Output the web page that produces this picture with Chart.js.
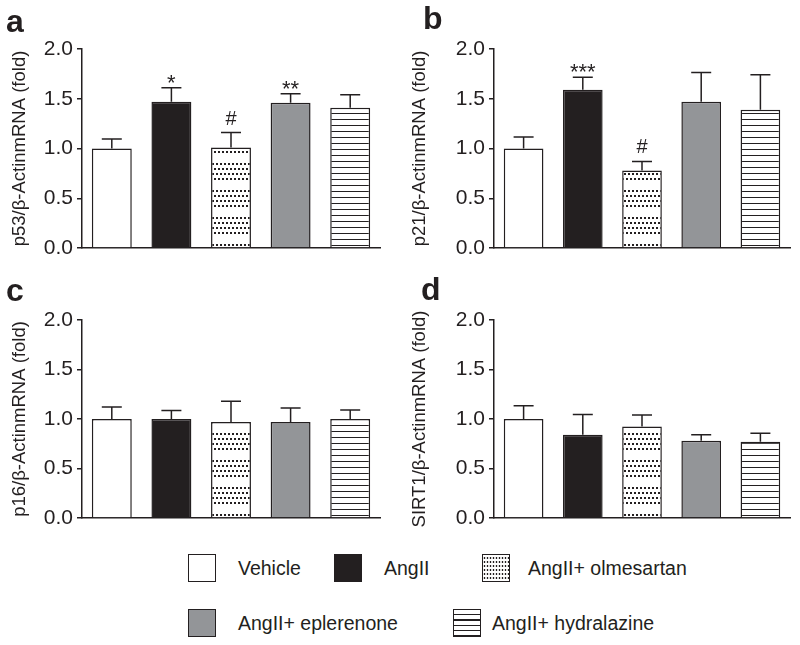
<!DOCTYPE html>
<html>
<head>
<meta charset="utf-8">
<script src="https://cdn.jsdelivr.net/npm/chart.js@4.4.1/dist/chart.umd.min.js"></script>
<style>
  body { margin: 0; background: #fff; font-family: "Liberation Sans", Arial, sans-serif; color: #231f20; }
  #wrap { position: relative; width: 800px; height: 645px; overflow: hidden; }
  .panel { position: absolute; width: 400px; height: 265px; }
  .letter { position: absolute; font-weight: bold; font-size: 32px; line-height: 1; }
  .sw { position: absolute; width: 26px; height: 26px; border: 1.5px solid #231f20; box-sizing: content-box; }
  .lt { position: absolute; font-size: 19.5px; line-height: 1; }
</style>
</head>
<body>
<div id="wrap">
  <div class="panel" style="left:0;top:0"><canvas id="cA"></canvas></div>
  <div class="panel" style="left:400px;top:0"><canvas id="cB"></canvas></div>
  <div class="panel" style="left:0;top:270px"><canvas id="cC"></canvas></div>
  <div class="panel" style="left:400px;top:270px"><canvas id="cD"></canvas></div>

  <div class="letter" style="left:6px;top:5px">a</div>
  <div class="letter" style="left:423px;top:2px">b</div>
  <div class="letter" style="left:6px;top:274px">c</div>
  <div class="letter" style="left:421px;top:273px">d</div>

  <div id="legend"></div>
</div>
<script>
// --- data ---
const groups = ["Vehicle", "AngII", "AngII+ olmesartan", "AngII+ eplerenone", "AngII+ hydralazine"];
const yTicks = [0, 0.5, 1.0, 1.5, 2.0];

const p53Mean = [1.0, 1.47, 1.01, 1.46, 1.41];
const p53Sem = [0.095, 0.14, 0.15, 0.09, 0.13];
const p53Marks = ["", "*", "#", "**", ""];

const p21Mean = [1.0, 1.59, 0.78, 1.47, 1.39];
const p21Sem = [0.115, 0.125, 0.09, 0.295, 0.35];
const p21Marks = ["", "***", "#", "", ""];

const p16Mean = [1.0, 1.0, 0.97, 0.97, 1.0];
const p16Sem = [0.12, 0.085, 0.21, 0.14, 0.09];
const p16Marks = ["", "", "", "", ""];

const sirt1Mean = [1.0, 0.84, 0.925, 0.78, 0.77];
const sirt1Sem = [0.135, 0.205, 0.115, 0.06, 0.085];
const sirt1Marks = ["", "", "", "", ""];

const INK = "#231f20";
const FONT = '"Liberation Sans", Arial, sans-serif';

// --- fill patterns ---
function dotPattern() {
  const c = document.createElement("canvas");
  c.width = 4; c.height = 27;
  const g = c.getContext("2d");
  g.fillStyle = "#fff"; g.fillRect(0, 0, 4, 27);
  g.fillStyle = INK;
  [1, 6, 11, 16].forEach((y, i) => g.fillRect(i % 2 ? 2 : 0, y, 2, 2));
  return g.createPattern(c, "repeat");
}
function hatchPattern() {
  const c = document.createElement("canvas");
  c.width = 4; c.height = 6;
  const g = c.getContext("2d");
  g.fillStyle = "#fff"; g.fillRect(0, 0, 4, 6);
  g.fillStyle = INK; g.fillRect(0, 5, 4, 1.2);
  return g.createPattern(c, "repeat");
}
const fills = ["#ffffff", INK, dotPattern(), "#939598", hatchPattern()];

// error bars (upper only) + significance marks
const errorBars = {
  id: "errorBars",
  afterDatasetsDraw(chart) {
    const ctx = chart.ctx;
    const ds = chart.data.datasets[0];
    const y = chart.scales.y;
    chart.getDatasetMeta(0).data.forEach((bar, i) => {
      const top = y.getPixelForValue(ds.data[i] + ds.sem[i]);
      ctx.save();
      ctx.strokeStyle = INK;
      ctx.lineWidth = 1.5;
      ctx.beginPath();
      ctx.moveTo(bar.x, bar.y);
      ctx.lineTo(bar.x, top);
      ctx.moveTo(bar.x - 10, top);
      ctx.lineTo(bar.x + 10, top);
      ctx.stroke();
      const m = ds.marks[i];
      if (m) {
        ctx.fillStyle = INK;
        ctx.textAlign = "center";
        ctx.textBaseline = "alphabetic";
        if (m[0] === "#") {
          ctx.font = "20px " + FONT;
          ctx.fillText(m, bar.x, top - 8);
        } else {
          ctx.font = "22px " + FONT;
          ctx.fillText(m, bar.x, top + 2);
        }
      }
      ctx.restore();
    });
  }
};

function makeChart(id, title, mean, sem, marks, axisW, pad) {
  return new Chart(document.getElementById(id), {
    type: "bar",
    data: {
      labels: groups,
      datasets: [{
        data: mean, sem, marks,
        backgroundColor: fills,
        borderColor: INK,
        borderWidth: 1.5,
        barPercentage: 0.67,
        categoryPercentage: 1.0
      }]
    },
    options: {
      responsive: false,
      animation: false,
      maintainAspectRatio: false,
      layout: { padding: pad },
      plugins: { legend: { display: false }, tooltip: { enabled: false } },
      scales: {
        x: {
          ticks: { display: false },
          grid: { display: true, drawOnChartArea: false, drawTicks: false },
          border: { display: true, color: INK, width: 1.5 },
          afterFit: s => { s.height = 0; }
        },
        y: {
          min: 0, max: 2,
          afterBuildTicks: s => { s.ticks = yTicks.map(v => ({ value: v })); },
          ticks: {
            color: INK, padding: 4,
            font: { family: FONT, size: 21 },
            callback: v => v.toFixed(1)
          },
          grid: { drawOnChartArea: false, drawTicks: true, tickLength: 5, color: INK, lineWidth: 1.5 },
          border: { display: true, color: INK, width: 1.5 },
          title: {
            display: true, text: title, color: INK,
            font: { family: FONT, size: 18.5 },
            padding: { top: 9, bottom: 0 }
          },
          afterFit: s => { s.width = axisW; }
        }
      }
    },
    plugins: [errorBars]
  });
}

["cA", "cB", "cC", "cD"].forEach(id => {
  const c = document.getElementById(id);
  c.width = 400; c.height = 265;
});

makeChart("cA", "p53/β-ActinmRNA (fold)", p53Mean, p53Sem, p53Marks, 82, { top: 49, right: 20, bottom: 17, left: 0 });
makeChart("cB", "p21/β-ActinmRNA (fold)", p21Mean, p21Sem, p21Marks, 94, { top: 49, right: 10, bottom: 17, left: 0 });
makeChart("cC", "p16/β-ActinmRNA (fold)", p16Mean, p16Sem, p16Marks, 82, { top: 50, right: 20, bottom: 17, left: 0 });
makeChart("cD", "SIRT1/β-ActinmRNA (fold)", sirt1Mean, sirt1Sem, sirt1Marks, 94, { top: 50, right: 10, bottom: 17, left: 0 });

// --- legend ---
const legendPos = [
  { sx: 188, sy: 554, tx: 238 },
  { sx: 334, sy: 554, tx: 384 },
  { sx: 482, sy: 554, tx: 528 },
  { sx: 188, sy: 609, tx: 238 },
  { sx: 453, sy: 609, tx: 492 }
];
const legendBg = [
  "background:#fff",
  "background:" + INK,
  "background-color:#fff;background-image:radial-gradient(" + INK + " 0.9px, transparent 1.1px);background-size:3px 4px;background-position:0 1px",
  "background:#939598",
  "background:repeating-linear-gradient(to bottom, #fff 0 4px, " + INK + " 4px 5.3px)"
];
const legend = document.getElementById("legend");
groups.forEach((g, i) => {
  const p = legendPos[i];
  const sw = document.createElement("div");
  sw.className = "sw";
  sw.style.cssText = "left:" + p.sx + "px;top:" + p.sy + "px;" + legendBg[i];
  legend.appendChild(sw);
  const t = document.createElement("div");
  t.className = "lt";
  t.style.left = p.tx + "px";
  t.style.top = (p.sy + 5) + "px";
  t.textContent = g;
  legend.appendChild(t);
});
</script>
</body>
</html>
